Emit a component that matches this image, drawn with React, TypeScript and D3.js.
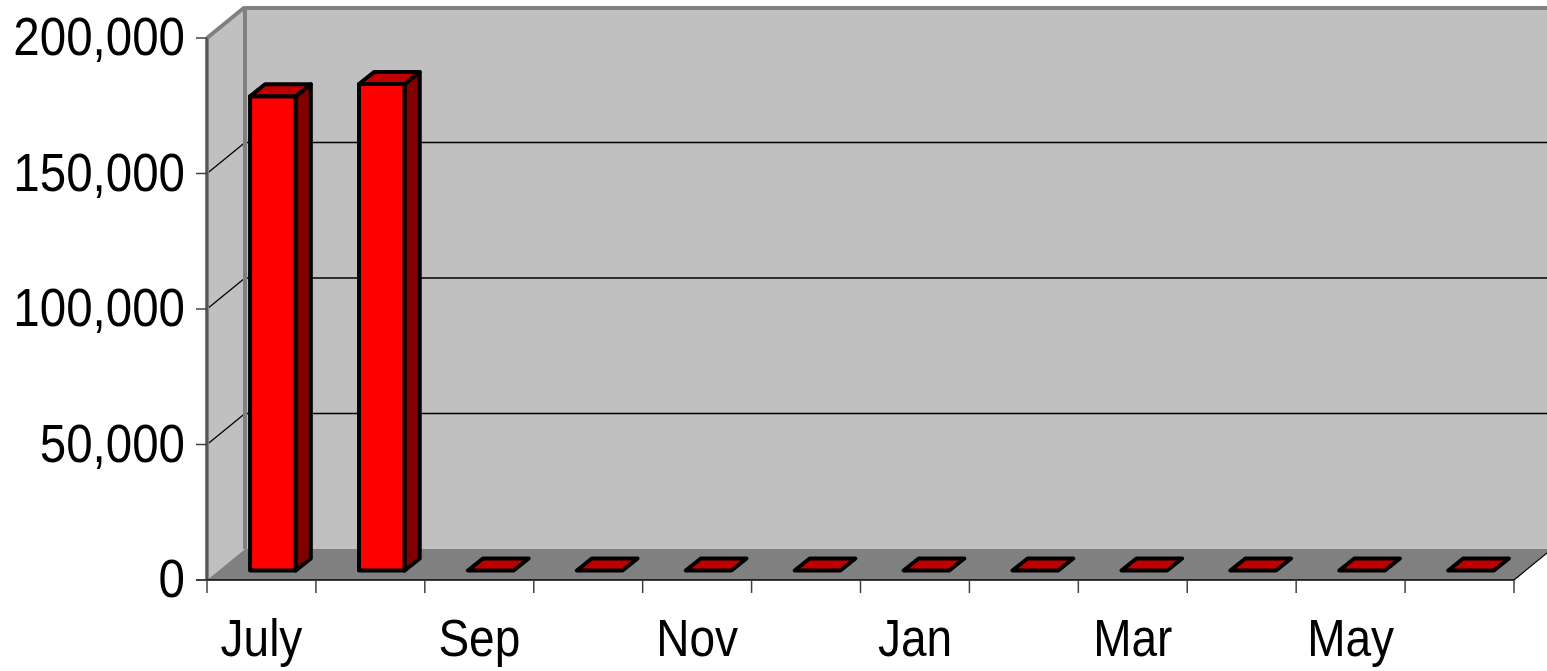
import * as d3 from 'd3';

const months = ['July', 'Aug', 'Sep', 'Oct', 'Nov', 'Dec', 'Jan', 'Feb', 'Mar', 'Apr', 'May', 'Jun'];
const values = [175000, 179500, 0, 0, 0, 0, 0, 0, 0, 0, 0, 0];
const yTicks = [0, 50000, 100000, 150000, 200000];

const W = 1547;
const H = 671;
const plot = { left: 207, right: 1514, top: 38, bottom: 580 };
// depth vector of the 3D box, and where the bars sit inside it
const depth = { dx: 38, dy: -31 };
const barFront = { dx: 11.5, dy: -9.5 };
const barDepth = { dx: 15, dy: -12 };
const FONT = '"Liberation Sans", Arial, sans-serif';
const stretch = 1.13;

export default function App() {
  const x = d3.scaleBand<string>().domain(months).range([plot.left, plot.right]);
  const y = d3.scaleLinear().domain([0, 200000]).range([plot.bottom, plot.top]);
  const band = x.bandwidth();
  const barW = band * 0.42;
  const fmt = d3.format(',');
  const pts = (p: number[][]) => p.map((q) => q.join(',')).join(' ');

  const y0 = y(0);
  const yTop = y(200000);
  const backRight = W + 10;

  return (
    <svg width={W} height={H} style={{ position: 'absolute', left: 0, top: 0, background: '#fff' }}>
      {/* walls and floor */}
      <polygon
        points={pts([[plot.left, yTop], [plot.left + depth.dx, yTop + depth.dy], [plot.left + depth.dx, y0 + depth.dy], [plot.left, y0]])}
        fill="#c0c0c0"
      />
      <rect x={plot.left + depth.dx} y={yTop + depth.dy} width={backRight} height={y0 - yTop} fill="#c0c0c0" />
      <polygon
        points={pts([[plot.left, y0], [plot.right, y0], [plot.right + depth.dx, y0 + depth.dy], [plot.left + depth.dx, y0 + depth.dy]])}
        fill="#808080"
      />
      {/* gridlines */}
      {yTicks.slice(1, -1).map((t) => (
        <g key={`g-${t}`} stroke="#000" strokeWidth={1.3}>
          <line x1={plot.left} y1={y(t)} x2={plot.left + depth.dx} y2={y(t) + depth.dy} />
          <line x1={plot.left + depth.dx} y1={y(t) + depth.dy} x2={backRight} y2={y(t) + depth.dy} />
        </g>
      ))}
      {/* frame */}
      <g stroke="#808080" strokeWidth={4} fill="none">
        <line x1={plot.left} y1={yTop} x2={plot.left + depth.dx} y2={yTop + depth.dy} />
        <line x1={plot.left + depth.dx} y1={yTop + depth.dy + 1} x2={backRight} y2={yTop + depth.dy + 1} />
        <line x1={plot.left + depth.dx} y1={yTop + depth.dy} x2={plot.left + depth.dx} y2={y0 + depth.dy} />
        <line x1={plot.left} y1={yTop} x2={plot.left} y2={y0} />
      </g>
      <line x1={plot.left} y1={yTop} x2={plot.left} y2={y0} stroke="#404040" strokeWidth={1.3} />
      <line x1={plot.right} y1={y0} x2={plot.right + depth.dx} y2={y0 + depth.dy} stroke="#000" strokeWidth={1.2} />
      {/* bars */}
      {months.map((m, i) => {
        const x0 = (x(m) ?? 0) + (band - barW) / 2 + barFront.dx;
        const x1 = x0 + barW;
        const yb = y0 + barFront.dy;
        const yt = y(values[i]) + barFront.dy;
        const { dx, dy } = barDepth;
        return (
          <g key={m} stroke="#000" strokeWidth={4} strokeLinejoin="round">
            {values[i] > 0 && (
              <>
                <rect x={x0} y={yt} width={barW} height={yb - yt} fill="#ff0000" />
                <polygon points={pts([[x1, yt], [x1 + dx, yt + dy], [x1 + dx, yb + dy], [x1, yb]])} fill="#800000" />
              </>
            )}
            <polygon points={pts([[x0, yt], [x1, yt], [x1 + dx, yt + dy], [x0 + dx, yt + dy]])} fill="#c00000" />
          </g>
        );
      })}
      {/* axes */}
      <line x1={plot.left - 11} y1={y0} x2={plot.right} y2={y0} stroke="#000" strokeWidth={1.6} />
      {yTicks.map((t) => (
        <g key={`y-${t}`}>
          <line x1={plot.left - 11} y1={y(t)} x2={plot.left} y2={y(t)} stroke="#404040" strokeWidth={1.5} />
          <text
            transform={`translate(185, ${y(t) + 17}) scale(1, ${stretch})`}
            textAnchor="end"
            fontFamily={FONT}
            fontSize={47.5}
            fill="#000"
          >
            {fmt(t)}
          </text>
        </g>
      ))}
      {[...months.map((m) => x(m) ?? 0), plot.right].map((px, i) => (
        <line key={`xt-${i}`} x1={px} y1={y0} x2={px} y2={y0 + 13} stroke="#404040" strokeWidth={1.5} />
      ))}
      {months.map((m, i) =>
        i % 2 === 0 ? (
          <text
            key={`xl-${m}`}
            transform={`translate(${(x(m) ?? 0) + band / 2}, 656) scale(1, ${stretch})`}
            textAnchor="middle"
            fontFamily={FONT}
            fontSize={46}
            fill="#000"
          >
            {m}
          </text>
        ) : null,
      )}
    </svg>
  );
}
